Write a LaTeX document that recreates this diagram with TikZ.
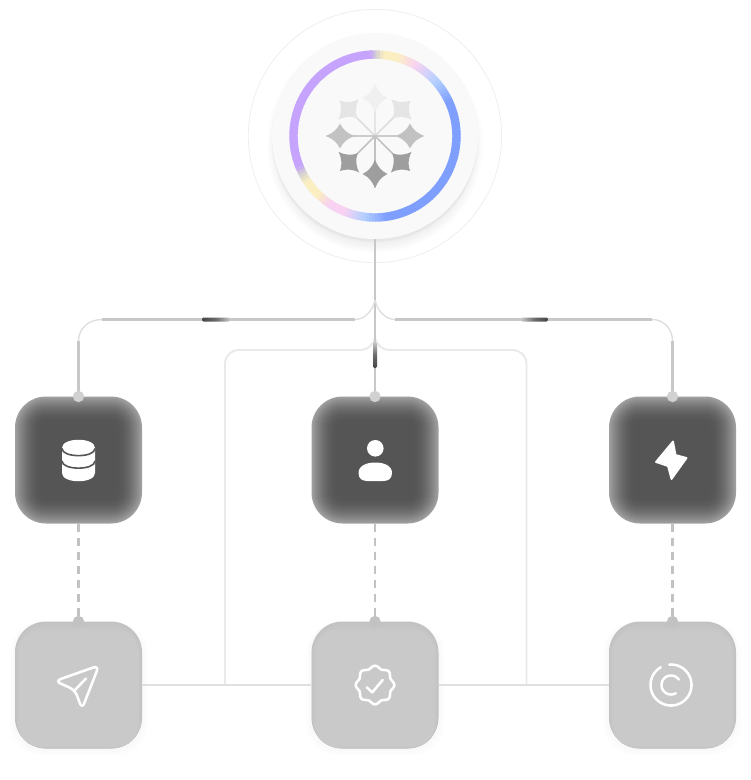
\documentclass[tikz,border=0pt]{standalone}
\usetikzlibrary{calc}
\definecolor{rpurple}{HTML}{C6A3FC}
\definecolor{rgrey}{HTML}{D2D0D2}
\definecolor{rcream}{HTML}{FBEFC2}
\definecolor{rpink}{HTML}{F8D2F2}
\definecolor{rlblue}{HTML}{B5D0FF}
\definecolor{rblue}{HTML}{7F9FFF}
\definecolor{darkfill}{HTML}{555555}
\definecolor{darkedge}{HTML}{A0A0A0}
\definecolor{lowfill}{HTML}{C9C9C9}
\definecolor{lowedge}{HTML}{C2C2C2}
\definecolor{pulse}{HTML}{444444}
\definecolor{wire}{HTML}{C8C8C8}
\definecolor{wirelight}{HTML}{E9E9E9}
\tikzset{
  boxnode/.style={rectangle,minimum width=95.25pt,minimum height=95.25pt,inner sep=0pt,outer sep=0pt},
  hubnode/.style={circle,minimum size=154.5pt,inner sep=0pt,outer sep=0pt},
  halo/.style={circle,draw=black!7,line width=.5pt,minimum size=190pt,inner sep=0pt},
  trunk/.style={draw=wire,line width=2.1pt},
  arcwire/.style={draw=black!13,line width=1pt},
  softwire/.style={draw=wirelight,line width=1.4pt},
  lowwire/.style={draw=black!12,line width=1.5pt},
  dashwire/.style={draw=black!24,line width=1.9pt,dash pattern=on 6pt off 4.5pt},
  dotdark/.style={circle,fill=black!18,minimum size=8.5pt,inner sep=0pt},
  dotlow/.style={circle,fill=black!24,minimum size=8.5pt,inner sep=0pt},
  icon/.style={draw=white,line width=1.9pt,line cap=round,line join=round},
  iconfill/.style={fill=white},
  iconcut/.style={draw=darkfill,line width=1.2pt}
}
\newcommand{\darkbox}[3]{%
  \foreach \i in {0,...,26}{%
    \pgfmathtruncatemacro\p{100*(1-(1-\i/26)^1.9)}%
    \pgfmathsetlengthmacro\r{max(31-\i,8)*0.75pt}%
    \fill[color=darkfill!\p!darkedge,rounded corners=\r]
      (#2-63.5+\i,#3-63.5+\i) rectangle (#2+63.5-\i,#3+63.5-\i);
  }%
  \node[boxnode] (#1) at (#2,#3) {};%
}
\newcommand{\lowbox}[3]{%
  \foreach \i in {1,...,6}{%
    \fill[black,opacity=.005,rounded corners=23pt]
      (#2-63.5-\i,#3-63.5+1) rectangle (#2+63.5+\i,#3+63.5+\i+1);
  }%
  \foreach \i in {0,...,10}{%
    \pgfmathtruncatemacro\p{10*\i}%
    \pgfmathsetlengthmacro\r{max(31-\i,6)*0.75pt}%
    \fill[color=lowfill!\p!lowedge,rounded corners=\r]
      (#2-63.5+\i*.4,#3-63.5+\i) rectangle (#2+63.5-\i*.4,#3+63.5-\i*.2);
  }%
  \node[boxnode] (#1) at (#2,#3) {};%
}
\begin{document}
\begin{tikzpicture}[x=0.75pt,y=-0.75pt]
\useasboundingbox (0,0) rectangle (750,780);
\fill[white] (0,0) rectangle (750,780);

% hub halo and shadow
\node[halo] (halo) at (375,136) {};
\foreach \i in {0,...,12}{
  \fill[black,opacity=.003] (375,{136+9}) circle ({100+\i*.7});
}
\foreach \i in {0,...,5}{
  \fill[black,opacity=.006] (375,{136+3}) circle ({102+\i*.4});
}
\node[hubnode,fill=black!2.5] (hub) at (375,136) {};

% coloured ring
\foreach \a/\b/\ca/\cb in {
  92/202/rpurple/rpurple,
  202/207/rpurple/rgrey,
  207/214/rgrey/rcream,
  214/226/rcream/rcream,
  226/236/rcream/rpink,
  236/248/rpink/rpink,
  248/262/rpink/rlblue,
  262/278/rlblue/rblue,
  278/385/rblue/rblue,
  385/402/rblue/rlblue,
  402/420/rlblue/rpink,
  420/434/rpink/rcream,
  434/444/rcream/rcream,
  444/449/rcream/rgrey,
  449/453/rgrey/rpurple}{
  \pgfmathtruncatemacro\n{max(1,(\b-\a)/2)}
  \foreach \k in {1,...,\n}{
    \pgfmathsetmacro\s{\a+(\k-1)*(\b-\a)/\n}
    \pgfmathsetmacro\e{\a+\k*(\b-\a)/\n+0.4}
    \pgfmathtruncatemacro\p{100*(\k-.5)/\n}
    \draw[line width=6.3pt,color=\cb!\p!\ca]
      ({375+81.5*cos(\s)},{136-81.5*sin(\s)}) -- ({375+81.5*cos(\e)},{136-81.5*sin(\e)});
  }
}

% snowflake
\foreach \ang/\rad/\sc/\rc in {
  90/38/black!6/black!10,
  45/37.5/black!10/black!13,
  135/37.5/black!10/black!13,
  0/35/black!24/black!20,
  180/35/black!24/black!20,
  -45/37/black!38/black!24,
  -135/37/black!38/black!24,
  -90/38/black!38/black!24}{
  \draw[color=\rc,line width=1.3pt] (375,136) -- ({375+\rad*cos(\ang)},{136-\rad*sin(\ang)});
  \begin{scope}[shift={({375+\rad*cos(\ang)},{136-\rad*sin(\ang)})},rotate=-\ang]
    \fill[color=\sc] (14.5,0) .. controls (6.5,3) and (3,6.5) .. (0,12.5)
      .. controls (-3,6.5) and (-6.5,3) .. (-14.5,0)
      .. controls (-6.5,-3) and (-3,-6.5) .. (0,-12.5)
      .. controls (3,-6.5) and (6.5,-3) .. (14.5,0) -- cycle;
  \end{scope}
}

% node coordinates for the wires
\coordinate (forkA) at (375,300);
\coordinate (la) at (355,319.5);
\coordinate (lb) at (102,319.5);
\coordinate (lc) at (78.5,341);
\coordinate (ra) at (395,319.5);
\coordinate (rb) at (652,319.5);
\coordinate (rc) at (672.5,341);
\coordinate (forkB) at (375,338);
\coordinate (ma) at (361,350);
\coordinate (mb) at (239,350);
\coordinate (mc) at (225,364);
\coordinate (md) at (225,684);
\coordinate (na) at (389,350);
\coordinate (nb) at (513,350);
\coordinate (nc) at (526.5,364);
\coordinate (nd) at (526.5,684);

% light loop
\draw[softwire] (forkB) .. controls (374,344) and (368,350) .. (ma) -- (mb)
  .. controls (231,350) and (225,356) .. (mc) -- (md);
\draw[softwire] (forkB) .. controls (376,344) and (382,350) .. (na) -- (nb)
  .. controls (520,350) and (526.5,356) .. (nc) -- (nd);

% boxes
\darkbox{b1}{78.5}{460}
\darkbox{b2}{375}{460}
\darkbox{b3}{672.5}{460}
\lowbox{c1}{78.5}{685}
\lowbox{c2}{375}{685}
\lowbox{c3}{672.5}{685}

% main wires
\draw[trunk] (hub.south) -- (b2.north);
\draw[arcwire] (forkA) .. controls (373,310) and (365,319.5) .. (la);
\draw[arcwire] (forkA) .. controls (377,310) and (385,319.5) .. (ra);
\draw[trunk] (la) -- (lb);
\draw[arcwire] (lb) .. controls (88,319.5) and (78.5,329) .. (lc);
\draw[trunk] (lc) -- (b1.north);
\draw[trunk] (ra) -- (rb);
\draw[arcwire] (rb) .. controls (664,319.5) and (672.5,329) .. (rc);
\draw[trunk] (rc) -- (b3.north);

% moving pulses
\shade[left color=pulse,right color=wire,middle color=pulse!70!wire,rounded corners=1pt]
  (202,317.5) rectangle (230,321.5);
\shade[left color=wire,right color=pulse,middle color=pulse!70!wire,rounded corners=1pt]
  (521,317.5) rectangle (548,321.5);
\shade[top color=wire,bottom color=pulse,middle color=pulse!70!wire,rounded corners=1pt]
  (373,342) rectangle (377,368);

% soft bottom wires
\draw[lowwire] (c1.east) -- (c2.west);
\draw[lowwire] (c2.east) -- (c3.west);

% dashed links
\draw[dashwire] (b1.south) -- (c1.north);
\draw[dashwire] (b2.south) -- (c2.north);
\draw[dashwire] (b3.south) -- (c3.north);

% anchor dots
\node[dotdark] (d1) at (b1.north) {};
\node[dotdark] (d2) at (b2.north) {};
\node[dotdark] (d3) at (b3.north) {};
\node[dotlow] (e1) at (c1.north) {};
\node[dotlow] (e2) at (c2.north) {};
\node[dotlow] (e3) at (c3.north) {};

% database icon
\fill[iconfill] (62,448) .. controls (62,437) and (95,437) .. (95,448)
  -- (95,473) .. controls (95,484) and (62,484) .. (62,473) -- cycle;
\draw[iconcut] (62,448.5) .. controls (62,458) and (95,458) .. (95,448.5);
\draw[iconcut] (62,461) .. controls (62,470.5) and (95,470.5) .. (95,461);

% person icon
\fill[iconfill] (375.3,448.3) circle (8.3);
\fill[iconfill] (358.5,473) .. controls (358.5,466) and (366,462.5) .. (375.3,462.5)
  .. controls (384.5,462.5) and (392,466) .. (392,473)
  .. controls (392,479) and (388,481) .. (383,481) -- (367.5,481)
  .. controls (362.5,481) and (358.5,479) .. (358.5,473) -- cycle;

% bolt icon
\fill[iconfill,draw=white,line width=1.4pt,line join=round]
  (673,441.5) -- (675.5,455) -- (686.5,458) -- (671.5,479) -- (668,466) -- (656,462) -- cycle;

% send icon
\draw[icon,rounded corners=4.5pt] (99,665.5) -- (55,681) -- (75,690) -- (82,709) -- cycle;
\draw[icon] (75,690) -- (86,678.5);

% badge icon
\draw[icon] plot[domain=0:360,samples=97,smooth] ({375+(18+1.3*cos(8*\x))*cos(\x)},{685+(18+1.3*cos(8*\x))*sin(\x)}) -- cycle;
\draw[icon] (366.7,687.3) -- (372.3,692.3) -- (382.7,680);

% spiral icon
\draw[icon] plot[domain=120:455,samples=80,smooth] ({671+20.5*cos(\x)},{685-20.5*sin(\x)});
\draw[icon] plot[domain=35:300,samples=50,smooth] ({671+9.5*cos(\x)},{685-9.5*sin(\x)});
\end{tikzpicture}
\end{document}
